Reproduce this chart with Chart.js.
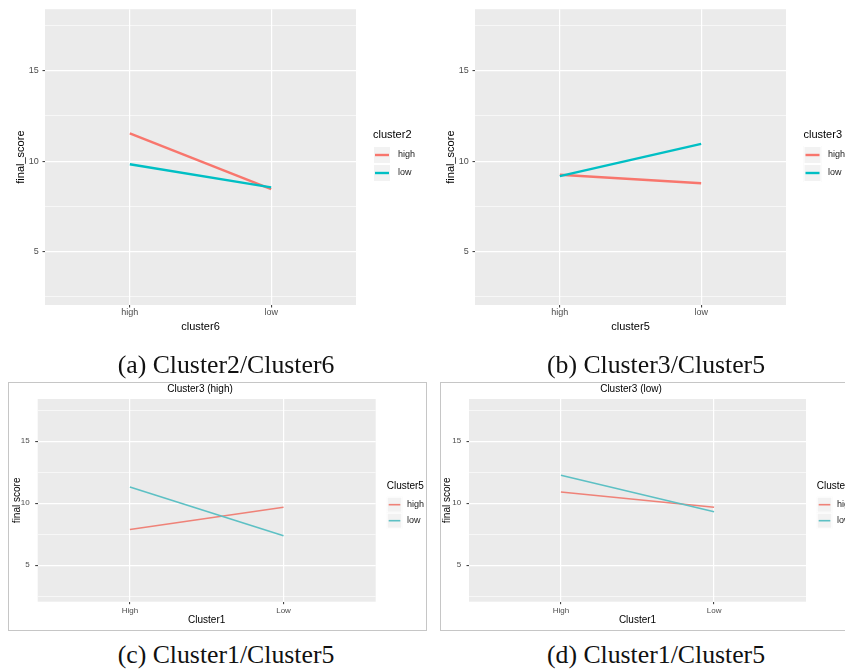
<!DOCTYPE html>
<html lang="en">
<head>
<meta charset="UTF-8">
<title>Cluster interaction plots</title>
<script src="https://cdn.jsdelivr.net/npm/chart.js"></script>
<style>
    body {
        margin: 0;
        width: 845px;
        height: 670px;
        overflow: hidden;
        background: #fff;
        position: relative;
    }
    canvas { position: absolute; }
    .frame {
        position: absolute;
        border: 1px solid #c6c6c6;
    }
    .caption {
        position: absolute;
        width: 300px;
        text-align: center;
        font-family: "Liberation Serif", "Times New Roman", serif;
        font-size: 25px;
        line-height: 26px;
        color: #111;
        transform: scaleX(1.03);
    }
</style>
</head>
<body>
<div class="frame" style="left:8px;top:382px;width:417px;height:247px;"></div>
<div class="frame" style="left:440px;top:382px;width:430px;height:247px;"></div>

<canvas id="plotA" width="420" height="340" style="left:0;top:0;"></canvas>
<canvas id="plotB" width="425" height="340" style="left:420px;top:0;"></canvas>
<canvas id="plotC" width="430" height="260" style="left:0;top:375px;"></canvas>
<canvas id="plotD" width="415" height="260" style="left:430px;top:375px;"></canvas>

<div class="caption" style="left:76px;top:352px;">(a) Cluster2/Cluster6</div>
<div class="caption" style="left:506px;top:352px;">(b) Cluster3/Cluster5</div>
<div class="caption" style="left:76px;top:642px;">(c) Cluster1/Cluster5</div>
<div class="caption" style="left:506px;top:642px;">(d) Cluster1/Cluster5</div>

<script>
    // values
    const seriesNames = ['high', 'low'];
    const yGrid = [2.5, 5, 7.5, 10, 12.5, 15, 17.5];

    const catsA = ['high', 'low'];
    const aHigh = [11.53, 8.45];
    const aLow = [9.83, 8.55];

    const catsB = ['high', 'low'];
    const bHigh = [9.25, 8.78];
    const bLow = [9.17, 10.96];

    const catsC = ['High', 'Low'];
    const cHigh = [7.87, 9.67];
    const cLow = [11.3, 7.37];

    const catsD = ['High', 'Low'];
    const dHigh = [10.9, 9.67];
    const dLow = [12.25, 9.3];

    const family = '"Liberation Sans", Arial, sans-serif';

    // grey panel behind the grid
    const panelBg = {
        id: 'panelBg',
        beforeDraw(chart) {
            const a = chart.chartArea, ctx = chart.ctx;
            ctx.save();
            ctx.fillStyle = '#EBEBEB';
            ctx.fillRect(a.left, a.top, a.right - a.left, a.bottom - a.top);
            ctx.restore();
        }
    };

    // title above the panel
    const panelTitle = {
        id: 'panelTitle',
        afterDraw(chart, args, o) {
            if (!o || !o.text) return;
            const ctx = chart.ctx;
            ctx.save();
            ctx.fillStyle = '#000';
            ctx.font = o.size + 'px ' + family;
            ctx.textAlign = 'center';
            ctx.textBaseline = 'middle';
            ctx.fillText(o.text, o.x, o.y);
            ctx.restore();
        }
    };

    // ggplot style legend with grey keys
    const ggLegend = {
        id: 'ggLegend',
        afterDraw(chart, args, o) {
            if (!o || !o.title) return;
            const ctx = chart.ctx;
            ctx.save();
            ctx.textAlign = 'left';
            ctx.textBaseline = 'middle';
            ctx.fillStyle = '#000';
            ctx.font = o.titleSize + 'px ' + family;
            ctx.fillText(o.title, o.x, o.titleY);
            chart.data.datasets.forEach((ds, i) => {
                const top = o.keyTop + i * o.keyH;
                const mid = top + o.keyH / 2;
                ctx.fillStyle = '#F2F2F2';
                ctx.fillRect(o.x, top, o.keyW, o.keyH);
                ctx.strokeStyle = '#fff';
                ctx.lineWidth = 1;
                ctx.strokeRect(o.x + 0.5, top + 0.5, o.keyW - 1, o.keyH - 1);
                ctx.strokeStyle = ds.borderColor;
                ctx.lineWidth = ds.borderWidth;
                ctx.beginPath();
                ctx.moveTo(o.x + 2, mid);
                ctx.lineTo(o.x + o.keyW - 2, mid);
                ctx.stroke();
                ctx.fillStyle = '#1a1a1a';
                ctx.font = o.labelSize + 'px ' + family;
                ctx.fillText(ds.label, o.labelX, mid);
            });
            ctx.restore();
        }
    };

    Chart.register(panelBg, panelTitle, ggLegend);

    function makePlot(id, cats, highVals, lowVals, s) {
        const isMajor = c => c.tick && c.tick.value % 5 === 0;
        return new Chart(document.getElementById(id), {
            type: 'line',
            data: {
                datasets: [
                    { label: seriesNames[0], data: highVals.map((v, i) => ({ x: i + 1, y: v })),
                      borderColor: s.colors[0], borderWidth: s.lw, pointRadius: 0, fill: false, tension: 0, order: 1 },
                    { label: seriesNames[1], data: lowVals.map((v, i) => ({ x: i + 1, y: v })),
                      borderColor: s.colors[1], borderWidth: s.lw, pointRadius: 0, fill: false, tension: 0, order: 0 }
                ]
            },
            options: {
                responsive: false,
                animation: false,
                events: [],
                layout: { padding: { left: 0, top: s.area.top, right: s.w - s.area.right, bottom: 0 } },
                plugins: {
                    legend: { display: false },
                    tooltip: { enabled: false },
                    panelTitle: s.title || {},
                    ggLegend: s.legend
                },
                scales: {
                    x: {
                        type: 'linear', min: 0.4, max: 2.6,
                        afterBuildTicks: a => { a.ticks = cats.map((c, i) => ({ value: i + 1 })); },
                        afterFit: a => { a.height = s.h - s.area.bottom; },
                        ticks: { callback: v => cats[v - 1], font: { family: family, size: s.tick },
                                 color: '#4D4D4D', padding: s.xPad, maxRotation: 0, autoSkip: false },
                        grid: { color: '#FFFFFF', lineWidth: 1.2, tickColor: '#333333', tickLength: s.tl, tickWidth: 1 },
                        border: { display: false },
                        title: { display: true, text: s.xTitle, font: { family: family, size: s.axisFont },
                                 color: '#000', padding: { top: 0, bottom: s.xTitlePad } }
                    },
                    y: {
                        min: 2.05, max: 18.4,
                        afterBuildTicks: a => { a.ticks = yGrid.map(v => ({ value: v })); },
                        afterFit: a => { a.width = s.area.left; },
                        ticks: { callback: v => (v % 5 === 0 ? String(v) : ''), font: { family: family, size: s.tick },
                                 color: '#4D4D4D', padding: s.yPad, autoSkip: false },
                        grid: { color: '#FFFFFF', lineWidth: c => (isMajor(c) ? 1.2 : 0.6),
                                tickColor: c => (isMajor(c) ? '#333333' : 'rgba(0,0,0,0)'),
                                tickLength: s.tl, tickWidth: 1 },
                        border: { display: false },
                        title: { display: true, text: s.yTitle, font: { family: family, size: s.axisFont },
                                 color: '#000', padding: { top: s.yTitlePad, bottom: 0 } }
                    }
                }
            }
        });
    }

    const topColors = ['#F8766D', '#00BFC4'];
    const bottomColors = ['#EF8278', '#5DC0C4'];

    makePlot('plotA', catsA, aHigh, aLow, {
        w: 420, h: 340, area: { left: 45, right: 356, top: 8, bottom: 305 },
        tick: 9, axisFont: 11, tl: 2.5, yPad: 3.8, xPad: 0, yTitlePad: 14, xTitlePad: 6.4,
        lw: 2.4, colors: topColors, xTitle: 'cluster6', yTitle: 'final_score',
        legend: { title: 'cluster2', x: 373, titleY: 135, keyTop: 146, keyW: 18, keyH: 18,
                  labelX: 398, titleSize: 11, labelSize: 9 }
    });

    makePlot('plotB', catsB, bHigh, bLow, {
        w: 425, h: 340, area: { left: 55, right: 366, top: 8, bottom: 305 },
        tick: 9, axisFont: 11, tl: 2.5, yPad: 3.8, xPad: 0, yTitlePad: 24, xTitlePad: 6.4,
        lw: 2.4, colors: topColors, xTitle: 'cluster5', yTitle: 'final_score',
        legend: { title: 'cluster3', x: 383.5, titleY: 135, keyTop: 146, keyW: 18, keyH: 18,
                  labelX: 408, titleSize: 11, labelSize: 9 }
    });

    makePlot('plotC', catsC, cHigh, cLow, {
        w: 430, h: 260, area: { left: 37.7, right: 375.7, top: 24, bottom: 226.7 },
        tick: 8, axisFont: 10, tl: 2.5, yPad: 5.5, xPad: 1.5, yTitlePad: 11.5, xTitlePad: 9,
        lw: 1.6, colors: bottomColors, xTitle: 'Cluster1', yTitle: 'final score',
        title: { text: 'Cluster3 (high)', x: 200, y: 14, size: 10 },
        legend: { title: 'Cluster5', x: 386.7, titleY: 111.7, keyTop: 121.7, keyW: 15.6, keyH: 16,
                  labelX: 407, titleSize: 10, labelSize: 9 }
    });

    makePlot('plotD', catsD, dHigh, dLow, {
        w: 415, h: 260, area: { left: 39, right: 376, top: 24, bottom: 226.7 },
        tick: 8, axisFont: 10, tl: 2.5, yPad: 5.3, xPad: 1.5, yTitlePad: 11.5, xTitlePad: 9,
        lw: 1.6, colors: bottomColors, xTitle: 'Cluster1', yTitle: 'final score',
        title: { text: 'Cluster3 (low)', x: 201, y: 14, size: 10 },
        legend: { title: 'Cluster5', x: 386.7, titleY: 111.7, keyTop: 121.7, keyW: 15.6, keyH: 16,
                  labelX: 407, titleSize: 10, labelSize: 9 }
    });
</script>
</body>
</html>
